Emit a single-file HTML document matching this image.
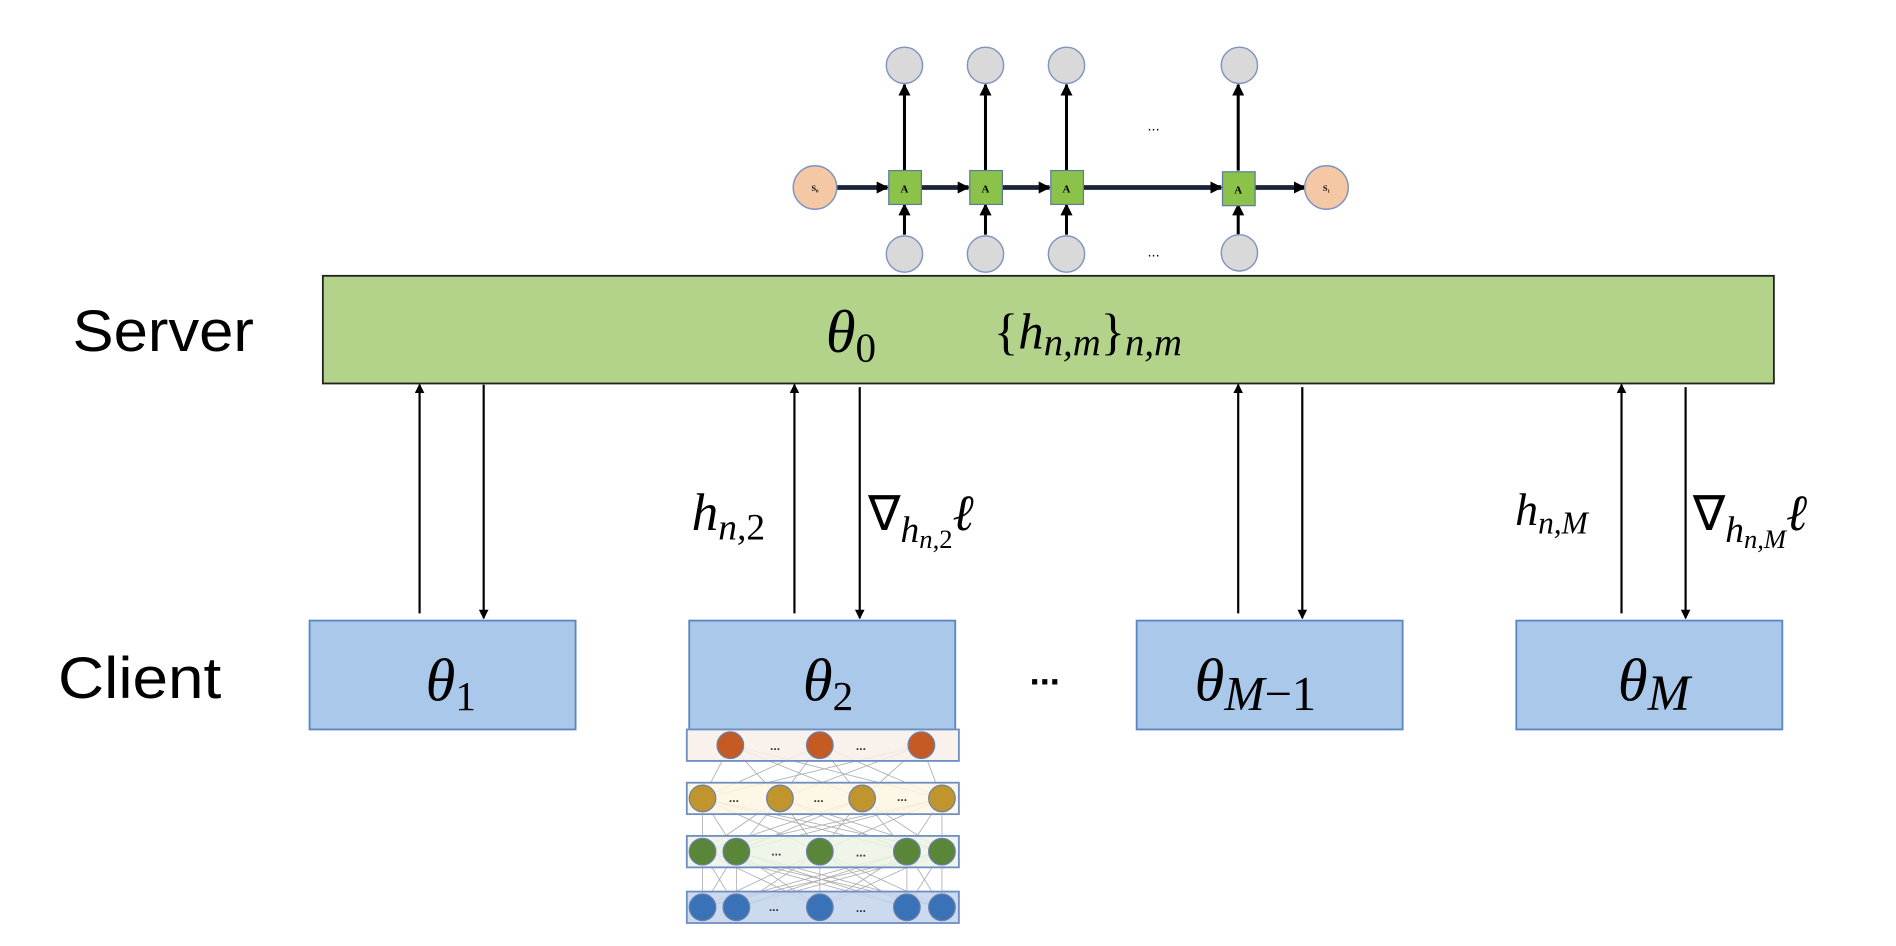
<!DOCTYPE html>
<html><head><meta charset="utf-8"><style>
html,body{margin:0;padding:0;background:#fff;width:1896px;height:946px;overflow:hidden}
svg{display:block}
.m{font-family:"Liberation Serif",serif;font-style:italic}
.r{font-family:"Liberation Serif",serif;font-style:normal}
.s{font-family:"Liberation Sans",sans-serif}
</style></head><body>
<svg width="1896" height="946" viewBox="0 0 1568 782" preserveAspectRatio="none" xmlns="http://www.w3.org/2000/svg">
<defs>
<marker id="a" markerWidth="8" markerHeight="8" refX="7" refY="4" orient="auto" markerUnits="userSpaceOnUse"><path d="M0,0 L8,4 L0,8 z" fill="#000"/></marker>
<marker id="b" markerWidth="10" markerHeight="10" refX="9" refY="5" orient="auto" markerUnits="userSpaceOnUse"><path d="M0,0 L10,5 L0,10 z" fill="#000"/></marker>
</defs>
<!-- RNN -->
<g stroke="#000" stroke-width="2.5" marker-end="url(#b)">
<line x1="748" y1="141" x2="748" y2="70"/><line x1="815" y1="141" x2="815" y2="70"/>
<line x1="882" y1="141" x2="882" y2="70"/><line x1="1024" y1="141" x2="1024" y2="70"/>
<line x1="748" y1="194" x2="748" y2="169"/><line x1="815" y1="194" x2="815" y2="169"/>
<line x1="882" y1="194" x2="882" y2="169"/><line x1="1024" y1="194" x2="1024" y2="169"/>
</g>
<g stroke="#1a2438" stroke-width="4" marker-end="url(#b)">
<line x1="692" y1="155" x2="734" y2="155"/><line x1="762" y1="155" x2="801" y2="155"/>
<line x1="829" y1="155" x2="868" y2="155"/><line x1="896" y1="155" x2="1010" y2="155"/>
<line x1="1038" y1="155" x2="1079" y2="155"/>
</g>
<g fill="#d9d9d9" stroke="#7f95c0" stroke-width="1.2">
<circle cx="748" cy="54" r="15"/><circle cx="815" cy="54" r="15"/><circle cx="882" cy="54" r="15"/><circle cx="1025" cy="54" r="15"/>
<circle cx="748" cy="210" r="15"/><circle cx="815" cy="210" r="15"/><circle cx="882" cy="210" r="15"/><circle cx="1025" cy="209" r="15"/>
</g>
<g fill="#f4c8a5" stroke="#7f95c0" stroke-width="1.2"><circle cx="674" cy="155" r="18"/><circle cx="1097" cy="155" r="18"/></g>
<g fill="#8bc34a" stroke="#5d7a9a" stroke-width="1"><rect x="735" y="141" width="27" height="28"/><rect x="802" y="141" width="27" height="28"/><rect x="869" y="141" width="27" height="28"/><rect x="1011" y="142" width="27" height="28"/></g>
<g class="r" font-size="9" font-weight="bold" text-anchor="middle"><text x="748" y="159">A</text><text x="815" y="159">A</text><text x="882" y="159">A</text><text x="1024" y="160">A</text><text x="674" y="158" font-size="7">S₀</text><text x="1097" y="158" font-size="7">S₁</text></g>
<g class="s" font-size="12" text-anchor="middle"><text x="954" y="108">...</text><text x="954" y="212">...</text></g>
<!-- Server -->
<rect x="267" y="228" width="1200" height="89" fill="#b3d38a" stroke="#222" stroke-width="1.5"/>
<text x="60" y="290" class="s" font-size="48" textLength="150" lengthAdjust="spacingAndGlyphs">Server</text>
<text x="683" y="291" class="m" font-size="50">θ<tspan class="r" font-size="34" dy="8">0</tspan></text>
<text x="822" y="288" class="r" font-size="42">{<tspan class="m">h</tspan><tspan class="m" font-size="32" dy="6">n,m</tspan><tspan dy="-6">}</tspan><tspan class="m" font-size="32" dy="6">n,m</tspan></text>
<!-- arrows -->
<g stroke="#000" stroke-width="1.8" marker-end="url(#a)">
<line x1="347" y1="507" x2="347" y2="318"/><line x1="400" y1="318" x2="400" y2="511"/>
<line x1="657" y1="507" x2="657" y2="318"/><line x1="711" y1="320" x2="711" y2="511"/>
<line x1="1024" y1="507" x2="1024" y2="318"/><line x1="1077" y1="320" x2="1077" y2="511"/>
<line x1="1341" y1="507" x2="1341" y2="318"/><line x1="1394" y1="320" x2="1394" y2="511"/>
</g>
<text x="572" y="438" class="m" font-size="44">h<tspan font-size="31" dy="8">n,</tspan><tspan class="r" font-size="31">2</tspan></text>
<text x="718" y="438" class="r" font-size="40">∇<tspan class="m" font-size="31" dy="10">h</tspan><tspan class="m" font-size="22" dy="5">n,</tspan><tspan class="r" font-size="22">2</tspan><tspan class="m" font-size="42" dy="-15">ℓ</tspan></text>
<text x="1253" y="434" class="m" font-size="38">h<tspan font-size="26" dy="7">n,M</tspan></text>
<text x="1400" y="438" class="r" font-size="40">∇<tspan class="m" font-size="31" dy="10">h</tspan><tspan class="m" font-size="22" dy="5">n,M</tspan><tspan class="m" font-size="42" dy="-15">ℓ</tspan></text>
<!-- clients -->
<g fill="#a9c8ea" stroke="#5b86c0" stroke-width="1.5">
<rect x="256" y="513" width="220" height="90"/><rect x="570" y="513" width="220" height="90"/>
<rect x="940" y="513" width="220" height="90"/><rect x="1254" y="513" width="220" height="90"/>
</g>
<text x="48" y="577" class="s" font-size="48" textLength="135" lengthAdjust="spacingAndGlyphs">Client</text>
<text x="352" y="579" class="m" font-size="50">θ<tspan class="r" font-size="34" dy="8">1</tspan></text>
<text x="664" y="579" class="m" font-size="50">θ<tspan class="r" font-size="34" dy="8">2</tspan></text>
<text x="988" y="579" class="m" font-size="50">θ<tspan font-size="40" dy="8">M</tspan><tspan class="r" font-size="40">−1</tspan></text>
<text x="1338" y="579" class="m" font-size="50">θ<tspan font-size="42" dy="8">M</tspan></text>
<text x="864" y="566" class="s" font-size="30" text-anchor="middle" font-weight="bold">...</text>
<!-- NN -->
<g stroke="#9a9a9a" stroke-width="0.7" opacity="0.8">
<path d="M604 616L581 660M604 616L645 660M604 616L713 660M604 616L779 660M678 616L581 660M678 616L645 660M678 616L713 660M678 616L779 660M762 616L581 660M762 616L645 660M762 616L713 660M762 616L779 660"/>
<path d="M581 660L581 704M581 660L609 704M581 660L678 704M581 660L750 704M581 660L779 704M645 660L581 704M645 660L609 704M645 660L678 704M645 660L750 704M645 660L779 704M713 660L581 704M713 660L609 704M713 660L678 704M713 660L750 704M713 660L779 704M779 660L581 704M779 660L609 704M779 660L678 704M779 660L750 704M779 660L779 704"/>
<path d="M581 704L581 750M581 704L609 750M581 704L678 750M581 704L750 750M581 704L779 750M609 704L581 750M609 704L609 750M609 704L678 750M609 704L750 750M609 704L779 750M678 704L581 750M678 704L609 750M678 704L678 750M678 704L750 750M678 704L779 750M750 704L581 750M750 704L609 750M750 704L678 750M750 704L750 750M750 704L779 750M779 704L581 750M779 704L609 750M779 704L678 750M779 704L750 750M779 704L779 750"/>
</g>
<g stroke="#6f8fc4" stroke-width="1.5" fill-opacity="0.85">
<rect x="568" y="603" width="225" height="26" fill="#f8eee8"/>
<rect x="568" y="647" width="225" height="26" fill="#fdf6e4"/>
<rect x="568" y="691" width="225" height="26" fill="#edf3e6"/>
<rect x="568" y="737" width="225" height="26" fill="#c3d3ec"/>
</g>
<g stroke="#6a7fa8" stroke-width="1">
<g fill="#c55a22"><circle cx="604" cy="616" r="11"/><circle cx="678" cy="616" r="11"/><circle cx="762" cy="616" r="11"/></g>
<g fill="#c0952e"><circle cx="581" cy="660" r="11"/><circle cx="645" cy="660" r="11"/><circle cx="713" cy="660" r="11"/><circle cx="779" cy="660" r="11"/></g>
<g fill="#5a8639"><circle cx="581" cy="704" r="11"/><circle cx="609" cy="704" r="11"/><circle cx="678" cy="704" r="11"/><circle cx="750" cy="704" r="11"/><circle cx="779" cy="704" r="11"/></g>
<g fill="#3a72b8"><circle cx="581" cy="750" r="11"/><circle cx="609" cy="750" r="11"/><circle cx="678" cy="750" r="11"/><circle cx="750" cy="750" r="11"/><circle cx="779" cy="750" r="11"/></g>
</g>
<g class="s" font-size="10" font-weight="bold" text-anchor="middle" fill="#333">
<text x="641" y="620">...</text><text x="712" y="620">...</text>
<text x="607" y="663">...</text><text x="677" y="663">...</text><text x="746" y="662">...</text>
<text x="642" y="707">...</text><text x="712" y="708">...</text>
<text x="640" y="753">...</text><text x="712" y="754">...</text>
</g>
</svg>
</body></html>
